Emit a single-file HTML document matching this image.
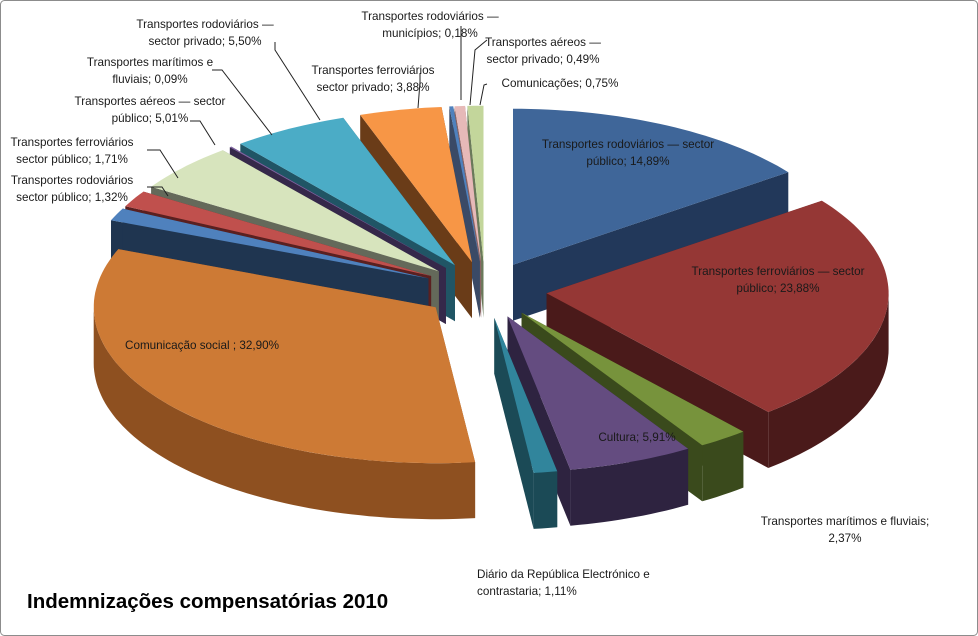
<!DOCTYPE html>
<html><head><meta charset="utf-8"><style>
html,body{margin:0;padding:0;background:#fff}
svg{display:block}
text{font-family:"Liberation Sans",sans-serif;font-size:11.7px;fill:#1a1a1a}
</style></head><body>
<svg id="chart" width="978" height="636" viewBox="0 0 978 636">
<rect x="0.5" y="0.5" width="977" height="635" rx="4" fill="#fff" stroke="#8c8c8c"/>
<g id="slices"></g><g id="leaders"></g><g id="labels"></g>
<text x="27" y="608" style="font-size:20.5px;font-weight:bold;fill:#000">Indemnizações compensatórias 2010</text>
</svg>
<script>
const categories=[
["Transportes rodoviários — sector","público"],
["Transportes ferroviários — sector","público"],
["Transportes marítimos  e fluviais;",""],
["Cultura"],
["Diário da República Electrónico e","contrastaria"],
["Comunicação social "],
["Transportes rodoviários","sector público"],
["Transportes ferroviários","sector público"],
["Transportes aéreos — sector","público"],
["Transportes marítimos  e","fluviais"],
["Transportes rodoviários —","sector privado"],
["Transportes ferroviários","sector privado"],
["Transportes rodoviários —","municípios"],
["Transportes aéreos —","sector privado"],
["Comunicações"]];
const values=[14.89,23.88,2.37,5.91,1.11,32.90,1.32,1.71,5.01,0.09,5.50,3.88,0.18,0.49,0.75];
const topColors=["#3F6699","#953735","#77933C","#644C80","#31859C","#CD7A35","#4F81BD","#C0504D","#D7E4BD","#8064A2","#4BACC6","#F79646","#4F81BD","#E6B9B8","#C3D69B"];
const sideColors=["#22385A","#4A1A1A","#3A4A1C","#2E2340","#1B4A56","#8E5020","#1F3550","#5A2020","#64695A","#35284A","#205565","#6A3C18","#3A4A66","#8A6464","#6A7A5A"];
// layout (not data)
const labelLayout=[[628,148,"middle"],[778,275,"middle"],[845,525,"middle"],[637,441,"middle"],[477,578,"start"],[202,349,"middle"],[72,184,"middle"],[72,146,"middle"],[150,105,"middle"],[150,66,"middle"],[205,28,"middle"],[373,74,"middle"],[430,20,"middle"],[543,46,"middle"],[560,87,"middle"]];
const leaderLayout=[[],[],[],[],[],[],[[147,187],[162,187],[168,196]],[[147,150],[160,150],[178,178]],[[190,121],[200,121],[215,145]],[[212,70],[222,70],[272,135]],[[275,42],[275,50],[320,120]],[[420,73],[420,82],[418,108]],[[461,26],[461,100]],[[487,40],[475,50],[470,105]],[[487,84],[484,85],[480,105]]];
const cx=485,cy=290,rx=342,ry=156,K=ry/rx,D=62,DEPTH=56;
const total=values.reduce((a,b)=>a+b,0);
const NS="http://www.w3.org/2000/svg";
function mk(tag,attrs,parent){const e=document.createElementNS(NS,tag);for(const k in attrs)e.setAttribute(k,attrs[k]);parent.appendChild(e);return e;}
const rad=d=>d*Math.PI/180;
let acc=0;
const slices=values.map((v,i)=>{const t0=-90+acc/total*360;acc+=v;const t1=-90+acc/total*360;const m=(t0+t1)/2;
return {i,t0,t1,m,ox:D*Math.cos(rad(m)),oy:D*K*Math.sin(rad(m))};});
function P(s,t,dz){return [cx+s.ox+rx*Math.cos(rad(t)),cy+s.oy+ry*Math.sin(rad(t))+(dz||0)];}
function arcPts(s,a,b,dz){const pts=[];const n=Math.max(2,Math.ceil((b-a)/1.5));for(let k=0;k<=n;k++)pts.push(P(s,a+(b-a)*k/n,dz));return pts;}
const toStr=pts=>pts.map(p=>p[0].toFixed(1)+","+p[1].toFixed(1)).join(" ");
const gS=document.getElementById("slices");
[...slices].sort((a,b)=>Math.sin(rad(a.m))-Math.sin(rad(b.m))).forEach(s=>{
 const g=mk("g",{},gS);
 
 
 const A=[cx+s.ox,cy+s.oy],Ad=[A[0],A[1]+DEPTH];
 [s.t0,s.t1].forEach(t=>{const p=P(s,t),pd=P(s,t,DEPTH);
  const w=mk("polygon",{points:toStr([A,p,pd,Ad]),fill:sideColors[s.i]},g);
  
  });
 const lo=Math.max(s.t0,0),hi=Math.min(s.t1,180);
 if(lo<hi){const top=arcPts(s,lo,hi,0),bot=arcPts(s,lo,hi,DEPTH).reverse();
  const o=mk("polygon",{points:toStr(top.concat(bot)),fill:sideColors[s.i]},g);
  
  }
 const tp=mk("polygon",{points:toStr([A].concat(arcPts(s,s.t0,s.t1,0))),fill:topColors[s.i]},g);
 
 
});
const gL=document.getElementById("leaders");
leaderLayout.forEach(l=>{if(l.length){const pl=mk("polyline",{points:toStr(l),fill:"none",stroke:"#222","stroke-width":1},gL);
 
 }});
const gT=document.getElementById("labels");
const fmt=v=>v.toFixed(2).replace(".",",")+"%";
categories.forEach((c,i)=>{const [x,y,anc]=labelLayout[i];
 const t=mk("text",{x:x,y:y,"text-anchor":anc},gT);
 
 
 const lines=c.slice();const last=lines.length-1;
 lines[last]=(lines[last]?lines[last]+"; ":"")+fmt(values[i]);
 lines.forEach((ln,j)=>{const ts=mk("tspan",{x:x,dy:j?17:0},t);ts.textContent=ln;});
});
</script>
</body></html>
